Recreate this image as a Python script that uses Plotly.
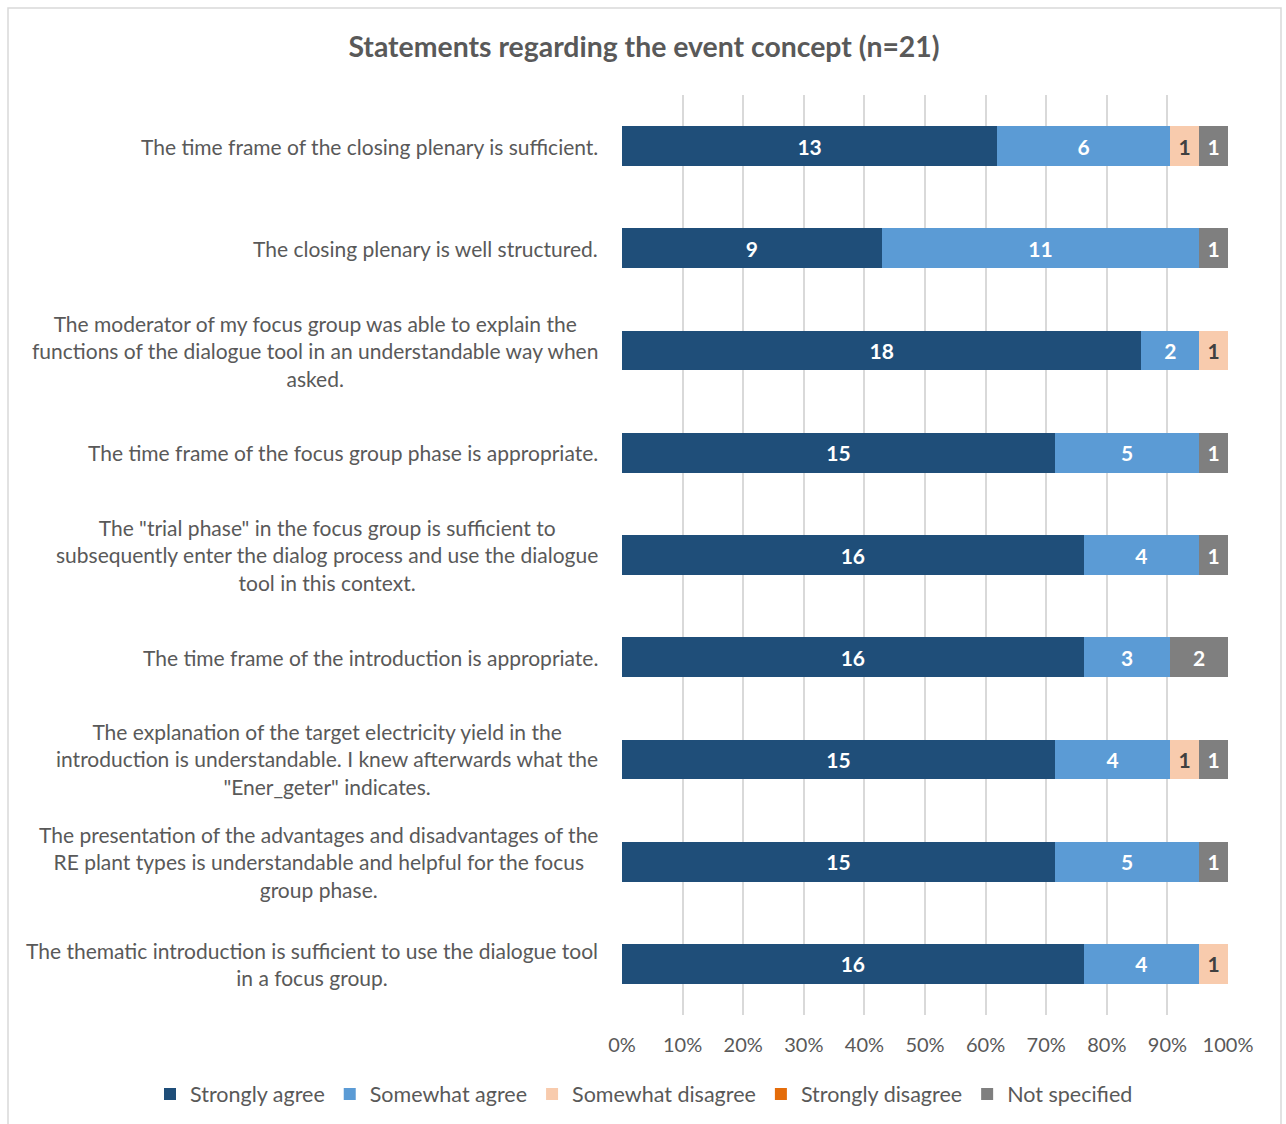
import plotly.graph_objects as go

# Survey statements (top to bottom as displayed)
statements = [
    "The time frame of the closing plenary is sufficient.",
    "The closing plenary is well structured.",
    "The moderator of my focus group was able to explain the<br>functions of the dialogue tool in an understandable way when<br>asked.",
    "The time frame of the focus group phase is appropriate.",
    "The \"trial phase\" in the focus group is sufficient to<br>subsequently enter the dialog process and use the dialogue<br>tool in this context.",
    "The time frame of the introduction is appropriate.",
    "The explanation of the target electricity yield in the<br>introduction is understandable. I knew afterwards what the<br>\"Ener_geter\" indicates.",
    "The presentation of the advantages and disadvantages of the<br>RE plant types is understandable and helpful for the focus<br>group phase.",
    "The thematic introduction is sufficient to use the dialogue tool<br>in a focus group.",
]

n_respondents = 21

strongly_agree = [13, 9, 18, 15, 16, 16, 15, 15, 16]
somewhat_agree = [6, 11, 2, 5, 4, 3, 4, 5, 4]
somewhat_disagree = [1, 0, 1, 0, 0, 0, 1, 0, 1]
strongly_disagree = [0, 0, 0, 0, 0, 0, 0, 0, 0]
not_specified = [1, 1, 0, 1, 1, 2, 1, 1, 0]

series = [
    ("Strongly agree", strongly_agree, "#1F4E79", "#FFFFFF"),
    ("Somewhat agree", somewhat_agree, "#5B9BD5", "#FFFFFF"),
    ("Somewhat disagree", somewhat_disagree, "#F8CBAD", "#404040"),
    ("Strongly disagree", strongly_disagree, "#E46C0A", "#FFFFFF"),
    ("Not specified", not_specified, "#7F7F7F", "#FFFFFF"),
]

ticks = [i / 10 for i in range(11)]
tick_labels = [f"{i * 10}%" for i in range(11)]

FONT = "Lato, Open Sans, sans-serif"
GREY = "#595959"

W, H = 1286, 1124
PL, PR, PT, PB = 622, 1228, 95, 1015  # plot area in pixels
PW, PHt = PR - PL, PB - PT

# category positions, top row first
ypos = list(range(len(statements)))

fig = go.Figure()
for name, counts, color, txt_color in series:
    fig.add_trace(go.Bar(
        name=name,
        orientation="h",
        y=ypos,
        x=[c / n_respondents for c in counts],
        text=[str(c) if c > 0 else "" for c in counts],
        textposition="inside",
        insidetextanchor="middle",
        constraintext="none",
        textfont=dict(family=FONT, size=21, color=txt_color, weight="bold"),
        marker=dict(color=color, line=dict(width=0)),
        hoverinfo="skip",
    ))

# Statement labels, centred per line and right-aligned as a block
for y, label in zip(ypos, statements):
    fig.add_annotation(
        x=(600 - PL) / PW, xref="paper", y=y, yref="y",
        text=label, showarrow=False,
        xanchor="right", yanchor="middle", align="center",
        font=dict(family=FONT, size=21, color=GREY),
    )

# Chart border (bottom edge runs past the canvas)
fig.add_shape(
    type="rect", xref="paper", yref="paper",
    x0=(8 - PL) / PW, x1=(1281 - PL) / PW,
    y0=(PB - 1135) / PHt, y1=(PB - 8) / PHt,
    line=dict(color="#D9D9D9", width=1.5), fillcolor="rgba(0,0,0,0)",
    layer="below",
)

fig.update_layout(
    width=W, height=H,
    margin=dict(l=PL, r=W - PR, t=PT, b=H - PB, autoexpand=False),
    paper_bgcolor="white", plot_bgcolor="white",
    barmode="stack", bargap=0.61,
    title=dict(
        text="<b>Statements regarding the event concept (n=21)</b>",
        x=644 / W, xanchor="center", y=1 - 47 / H, yanchor="middle",
        font=dict(family=FONT, size=28.4, color=GREY),
    ),
    xaxis=dict(
        range=[0, 1], tickvals=ticks, ticktext=tick_labels,
        showgrid=True, gridcolor="#D9D9D9", gridwidth=1.5,
        zeroline=False, showline=False, ticks="",
        tickfont=dict(family=FONT, size=20, color=GREY),
        ticklabelstandoff=16,
    ),
    yaxis=dict(
        range=[len(statements) - 0.5, -0.5],
        showticklabels=False, showgrid=False, zeroline=False,
    ),
    legend=dict(
        orientation="h", xref="paper", yref="paper",
        x=(150 - PL) / PW, xanchor="left",
        y=(PB - 1094) / PHt, yanchor="middle",
        font=dict(family=FONT, size=21.5, color=GREY),
        itemwidth=30, traceorder="normal", bgcolor="rgba(0,0,0,0)",
    ),
)

fig.write_html("out.html")
